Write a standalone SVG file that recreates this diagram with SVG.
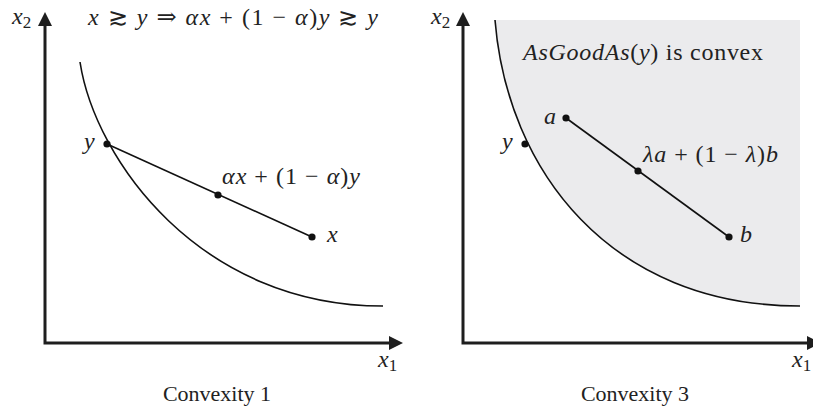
<svg xmlns="http://www.w3.org/2000/svg" width="813" height="411" viewBox="0 0 813 411" xml:space="preserve">
<style>
.axis{stroke:#1e1e1e;stroke-width:3;fill:none}
.ah{fill:#1e1e1e}
.curve{stroke:#111;stroke-width:1.6;fill:none}
.seg{stroke:#111;stroke-width:1.6}
.dot{fill:#111}
.m{font-family:"Liberation Serif","DejaVu Serif",serif;font-size:24px;fill:#222}
.i{font-style:italic}
.sub{font-size:17px}
.cap{font-family:"Liberation Serif",serif;font-size:22px;fill:#222}
</style>
<rect width="813" height="411" fill="#fff"/>
<g id="shade">
<path d="M495,20 C507,170 610,306 800,306 L800,20 Z" fill="#ebebed"/>
</g>
<g id="axes">
<path class="axis" d="M45,24 L45,343 L390,343"/>
<polygon class="ah" points="45,12 38,26 52,26"/>
<polygon class="ah" points="403,343 389,336 389,350"/>
<path class="axis" d="M463,24 L463,343 L808,343"/>
<polygon class="ah" points="463,12 456,26 470,26"/>
<polygon class="ah" points="821,343 807,336 807,350"/>
</g>
<g id="connectors">
<path class="curve" d="M80,62 C95,160 200,306 383,306"/>
<path class="curve" d="M495,20 C507,170 610,306 800,306"/>
<line class="seg" x1="107" y1="144" x2="312" y2="237"/>
<line class="seg" x1="566" y1="118" x2="729" y2="237"/>
</g>
<g id="node-y1"><circle class="dot" cx="107" cy="144" r="3.6"/><text class="m i" x="84" y="149">y</text></g>
<g id="node-mix1"><circle class="dot" cx="218" cy="195" r="3.6"/><text class="m" x="222" y="184" textLength="138" lengthAdjust="spacing"><tspan class="i">αx</tspan> + (1 − <tspan class="i">α</tspan>)<tspan class="i">y</tspan></text></g>
<g id="node-x1"><circle class="dot" cx="312" cy="237" r="3.6"/><text class="m i" x="327" y="242">x</text></g>
<g id="node-y3"><circle class="dot" cx="525" cy="144" r="3.6"/><text class="m i" x="502" y="149">y</text></g>
<g id="node-a"><circle class="dot" cx="566" cy="118" r="3.6"/><text class="m i" x="544" y="124">a</text></g>
<g id="node-mix3"><circle class="dot" cx="638" cy="171" r="3.6"/><text class="m" x="643" y="162" textLength="135" lengthAdjust="spacing"><tspan class="i">λa</tspan> + (1 − <tspan class="i">λ</tspan>)<tspan class="i">b</tspan></text></g>
<g id="node-b"><circle class="dot" cx="729" cy="237" r="3.6"/><text class="m i" x="740" y="242">b</text></g>
<g id="labels">
<text class="m" x="12" y="24"><tspan class="i">x</tspan><tspan class="sub" dy="4">2</tspan></text>
<text class="m" x="431" y="24"><tspan class="i">x</tspan><tspan class="sub" dy="4">2</tspan></text>
<text class="m" x="378" y="367"><tspan class="i">x</tspan><tspan class="sub" dy="4">1</tspan></text>
<text class="m" x="792" y="367"><tspan class="i">x</tspan><tspan class="sub" dy="4">1</tspan></text>
<text class="m" x="88" y="25" textLength="290" lengthAdjust="spacing"><tspan class="i">x</tspan> ≳ <tspan class="i">y</tspan>  ⇒  <tspan class="i">αx</tspan> + (1 − <tspan class="i">α</tspan>)<tspan class="i">y</tspan> ≳ <tspan class="i">y</tspan></text>
<text class="cap" x="523" y="60" style="font-size:24px" textLength="240" lengthAdjust="spacing"><tspan class="i">AsGoodAs</tspan>(<tspan class="i">y</tspan>)  is convex</text>
<text class="cap" x="217" y="401" text-anchor="middle">Convexity 1</text>
<text class="cap" x="635" y="401" text-anchor="middle">Convexity 3</text>
</g>
</svg>
